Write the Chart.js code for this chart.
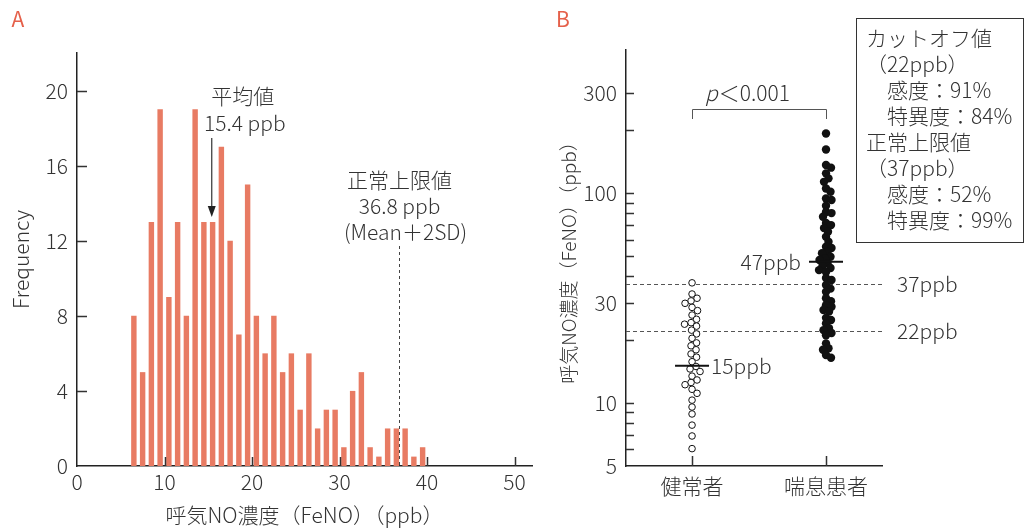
<!DOCTYPE html>
<html>
<head>
<meta charset="utf-8">
<script src="https://cdn.jsdelivr.net/npm/chart.js@4/dist/chart.umd.min.js"></script>
<style>
  html, body { margin: 0; padding: 0; background: #fff; }
  #wrap { position: relative; width: 1028px; height: 528px; }
  #ca { position: absolute; left: 0; top: 0; }
  #cb { position: absolute; left: 550px; top: 0; }
</style>
</head>
<body>
<div id="wrap">
  <canvas id="ca" width="550" height="528"></canvas>
  <canvas id="cb" width="478" height="528"></canvas>
</div>
<script>
// ---- パネルA：ヒストグラム ----
const binLow = [6, 7, 8, 9, 10, 11, 12, 13, 14, 15, 16, 17, 18, 19, 20, 21, 22,
                23, 24, 25, 26, 27, 28, 29, 30, 31, 32, 33, 34, 35, 36, 37, 38, 39];
const freq = [8, 5, 13, 19, 9, 13, 8, 19, 13, 13, 17, 12, 7, 15, 8, 6, 8,
              5, 6, 3, 6, 2, 3, 3, 1, 4, 5, 1, 0.5, 2, 2, 2, 0.5, 1];
const xTicksA = [0, 10, 20, 30, 40, 50];
const yTicksA = [0, 4, 8, 12, 16, 20];
const meanA = 15.4;
const ulnA = 36.8;

// ---- パネルB：ドットプロット ----
const groups = ['健常者', '喘息患者'];
const healthy = [37.3, 33.0, 31.5, 30.6, 29.8, 28.5, 27.5, 26.2, 25.0, 24.1, 23.7, 23.2,
                 22.2, 21.3, 20.3, 19.3, 18.7, 17.9, 17.1, 16.5, 15.7, 14.9, 14.5, 14.1,
                 13.4, 12.85, 12.5, 12.2, 11.6, 11.1, 10.3, 9.55, 8.85, 7.83, 6.95, 6.05];
const asthma = [192, 161, 136, 132, 124, 117.4, 113, 105, 101.4, 94.2, 92.5, 87,
                81.1, 80.2, 77.0, 71.9, 70.3, 68, 65.3, 61.8, 58.6, 55.4, 54.7, 52.3,
                51.6, 49.7, 48.8, 47.9, 46.2, 45, 43.9, 42.9, 42.0, 39.3, 38.5, 36.4,
                35, 33.8, 31.5, 30.5, 29.2, 28.7, 27.7, 27.2, 25.4, 24.8, 23.9, 22.7,
                22.2, 21.5, 21.0, 19.2, 18.2, 17.9, 16.9, 16.4];
const medians = [15, 47];
const cutoffs = [22, 37];
const yTicksB = [5, 6, 7, 8, 9, 10, 20, 30, 40, 50, 60, 70, 80, 90, 100, 200, 300];
const yLabelsB = [5, 10, 30, 100, 300];
const boxLines = ['カットオフ値', '（22ppb）', '　感度：91%', '　特異度：84%',
                  '正常上限値', '（37ppb）', '　感度：52%', '　特異度：99%'];

const FONT = "'Noto Sans CJK JP', 'Noto Sans', sans-serif";
const INK = '#333';
const F21 = '300 21px ' + FONT;
Chart.defaults.font.family = FONT;
Chart.defaults.font.size = 21;
Chart.defaults.font.weight = '300';
Chart.defaults.color = INK;

function txt(ctx, s, x, y, align) {
  ctx.textAlign = align || 'center';
  ctx.textBaseline = 'middle';
  ctx.fillText(s, x, y);
}

// A の注記
const annotA = {
  id: 'annotA',
  afterDraw(chart) {
    const { ctx, scales: { x, y } } = chart;
    ctx.save();
    ctx.strokeStyle = INK;
    ctx.lineWidth = 1.5;
    // 内向き目盛
    ctx.beginPath();
    yTicksA.slice(1).forEach(v => {
      const py = Math.round(y.getPixelForValue(v)) + 0.5;
      ctx.moveTo(x.left, py); ctx.lineTo(x.left + 10, py);
    });
    xTicksA.slice(1).forEach(v => {
      const px = Math.round(x.getPixelForValue(v)) + 0.5;
      ctx.moveTo(px, y.bottom); ctx.lineTo(px, y.bottom - 9);
    });
    ctx.stroke();

    // 平均値の矢印
    const mx = x.getPixelForValue(meanA);
    ctx.lineWidth = 1.2;
    ctx.beginPath();
    ctx.moveTo(mx, 138); ctx.lineTo(mx, 208);
    ctx.stroke();
    ctx.fillStyle = '#222';
    ctx.beginPath();
    ctx.moveTo(mx - 4, 206); ctx.lineTo(mx + 4, 206); ctx.lineTo(mx, 217);
    ctx.closePath(); ctx.fill();

    // 正常上限値の破線
    const ux = Math.round(x.getPixelForValue(ulnA)) + 0.5;
    ctx.strokeStyle = '#444';
    ctx.lineWidth = 1;
    ctx.setLineDash([3, 3]);
    ctx.beginPath();
    ctx.moveTo(ux, 246); ctx.lineTo(ux, y.getPixelForValue(0));
    ctx.stroke();
    ctx.setLineDash([]);

    ctx.fillStyle = INK;
    ctx.font = F21;
    txt(ctx, '平均値', mx + 31, 96);
    txt(ctx, '15.4 ppb', mx + 33, 123);
    txt(ctx, '正常上限値', ux, 180);
    txt(ctx, '36.8 ppb', ux, 206);
    txt(ctx, '(Mean＋2SD)', ux + 6, 232);

    ctx.fillStyle = '#e5604a';
    ctx.font = '400 21px ' + FONT;
    txt(ctx, 'A', 18, 19);
    ctx.restore();
  }
};

new Chart(document.getElementById('ca'), {
  type: 'bar',
  data: {
    datasets: [{
      data: binLow.map((b, i) => ({ x: b + 0.5, y: freq[i] })),
      backgroundColor: '#e87b63',
      borderWidth: 0,
      barPercentage: 0.62,
      categoryPercentage: 1
    }]
  },
  options: {
    responsive: false,
    animation: false,
    layout: { padding: { left: 0, top: 53, right: 18, bottom: 0 } },
    plugins: { legend: { display: false }, tooltip: { enabled: false } },
    scales: {
      x: {
        type: 'linear', min: 0, max: 52, offset: false,
        afterBuildTicks: s => { s.ticks = xTicksA.map(v => ({ value: v })); },
        ticks: { padding: 3, autoSkip: false, maxRotation: 0 },
        grid: { display: false, drawTicks: false },
        border: { color: '#222', width: 1.5 },
        title: { display: true, text: '呼気NO濃度（FeNO）（ppb）', padding: { top: 0, bottom: 0 } },
        afterFit: s => { s.height = 62; }
      },
      y: {
        min: 0, max: 22,
        afterBuildTicks: s => { s.ticks = yTicksA.map(v => ({ value: v })); },
        ticks: { padding: 9, autoSkip: false },
        grid: { display: false, drawTicks: false },
        border: { color: '#222', width: 1.5 },
        title: { display: true, text: 'Frequency', padding: { top: 8, bottom: 0 } },
        afterFit: s => { s.width = 77; }
      }
    }
  },
  plugins: [annotA]
});

// B の注記
const annotB = {
  id: 'annotB',
  beforeDatasetsDraw(chart) {
    const { ctx, chartArea: a, scales: { y } } = chart;
    ctx.save();
    ctx.strokeStyle = '#555';
    ctx.lineWidth = 1;
    ctx.setLineDash([4, 3]);
    cutoffs.forEach(v => {
      const py = Math.round(y.getPixelForValue(v)) + 0.5;
      ctx.beginPath(); ctx.moveTo(a.left, py); ctx.lineTo(a.right + 3, py); ctx.stroke();
    });
    ctx.restore();
  },
  afterDraw(chart) {
    const { ctx, chartArea: a, scales: { x, y } } = chart;
    ctx.save();
    ctx.strokeStyle = INK;
    ctx.lineWidth = 1.5;
    ctx.beginPath();
    yTicksB.slice(1).forEach(v => {
      const py = Math.round(y.getPixelForValue(v)) + 0.5;
      ctx.moveTo(a.left, py); ctx.lineTo(a.left + 8, py);
    });
    groups.forEach((g, i) => {
      const px = Math.round(x.getPixelForValue(i + 1)) + 0.5;
      ctx.moveTo(px, a.bottom); ctx.lineTo(px, a.bottom - 10);
    });
    ctx.stroke();

    // 中央値の線
    ctx.strokeStyle = '#111';
    ctx.lineWidth = 2;
    medians.forEach((v, i) => {
      const px = x.getPixelForValue(i + 1);
      const py = y.getPixelForValue(v);
      ctx.beginPath(); ctx.moveTo(px - 17, py); ctx.lineTo(px + 17, py); ctx.stroke();
    });

    ctx.fillStyle = INK;
    ctx.font = F21;
    const p0 = x.getPixelForValue(1), p1 = x.getPixelForValue(2);
    txt(ctx, medians[0] + 'ppb', p0 + 19, y.getPixelForValue(medians[0]), 'left');
    txt(ctx, medians[1] + 'ppb', p1 - 25, y.getPixelForValue(medians[1]), 'right');
    cutoffs.forEach(v => txt(ctx, v + 'ppb', a.right + 15, y.getPixelForValue(v), 'left'));

    // 有意差のブラケット
    ctx.strokeStyle = '#555';
    ctx.lineWidth = 1;
    ctx.beginPath();
    ctx.moveTo(Math.round(p0) + 0.5, 119); ctx.lineTo(Math.round(p0) + 0.5, 109.5);
    ctx.lineTo(Math.round(p1) + 0.5, 109.5); ctx.lineTo(Math.round(p1) + 0.5, 119);
    ctx.stroke();
    ctx.font = 'italic ' + F21;
    const wp = ctx.measureText('p').width;
    ctx.font = F21;
    const wr = ctx.measureText('＜0.001').width;
    const sx = (p0 + p1) / 2 - (wp + wr) / 2 - 12;
    ctx.font = 'italic ' + F21;
    txt(ctx, 'p', sx, 93, 'left');
    ctx.font = F21;
    txt(ctx, '＜0.001', sx + wp + 1, 93, 'left');

    // 右上の枠
    ctx.fillStyle = '#fff';
    ctx.fillRect(306.5, 18.5, 167, 224);
    ctx.strokeStyle = INK;
    ctx.lineWidth = 1;
    ctx.strokeRect(306.5, 18.5, 167, 224);
    ctx.fillStyle = INK;
    boxLines.forEach((s, i) => txt(ctx, s, 316, 38 + i * 26, 'left'));

    ctx.fillStyle = '#e5604a';
    ctx.font = '400 21px ' + FONT;
    txt(ctx, 'B', 13, 19);
    ctx.restore();
  }
};

const chartB = new Chart(document.getElementById('cb'), {
  type: 'scatter',
  data: {
    datasets: [
      { data: healthy.map(v => ({ x: 1, y: v })), pointRadius: 3.3, pointBorderWidth: 1,
        pointBackgroundColor: '#fff', pointBorderColor: '#111' },
      { data: asthma.map(v => ({ x: 2, y: v })), pointRadius: 4.2, pointBorderWidth: 0,
        pointBackgroundColor: '#111', pointBorderColor: '#111' }
    ]
  },
  options: {
    responsive: false,
    animation: false,
    layout: { padding: { left: 0, top: 50, right: 146, bottom: 0 } },
    plugins: { legend: { display: false }, tooltip: { enabled: false } },
    scales: {
      x: {
        type: 'linear', min: 0.507, max: 2.418,
        afterBuildTicks: s => { s.ticks = groups.map((g, i) => ({ value: i + 1 })); },
        ticks: { padding: 7, autoSkip: false, maxRotation: 0,
                 callback: v => groups[Math.round(v) - 1] },
        grid: { display: false, drawTicks: false },
        border: { color: '#222', width: 1.5 },
        afterFit: s => { s.height = 62; }
      },
      y: {
        type: 'logarithmic', min: 5, max: 480,
        afterBuildTicks: s => { s.ticks = yTicksB.map(v => ({ value: v })); },
        ticks: { padding: 9, autoSkip: false,
                 callback: v => yLabelsB.includes(v) ? String(v) : '' },
        grid: { display: false, drawTicks: false },
        border: { color: '#222', width: 1.5 },
        title: { display: true, text: '呼気NO濃度（FeNO）（ppb）', font: { size: 19 },
                 padding: { top: 7, bottom: 0 } },
        afterFit: s => { s.width = 76; }
      }
    }
  },
  plugins: [annotB]
});

// 重ならないように横へずらす（ビースウォーム）
function swarm(chart, di, values, center, minDist) {
  const xs = chart.scales.x, ys = chart.scales.y;
  const unit = xs.getPixelForValue(1) - xs.getPixelForValue(0);
  const pts = values.map((v, i) => ({ i, v, py: ys.getPixelForValue(v), dx: 0 }));
  pts.sort((a, b) => a.py - b.py);
  const placed = [];
  pts.forEach(p => {
    for (let k = 0; k < 200; k++) {
      const cands = k === 0 ? [0] : [k * 0.5, -k * 0.5];
      const ok = cands.find(dx => placed.every(q =>
        (q.dx - dx) ** 2 + (q.py - p.py) ** 2 >= minDist * minDist));
      if (ok !== undefined) { p.dx = ok; break; }
    }
    placed.push(p);
  });
  pts.sort((a, b) => a.i - b.i);
  chart.data.datasets[di].data = pts.map(p => ({ x: center + p.dx / unit, y: p.v }));
}
swarm(chartB, 0, healthy, 1, 6.2);
swarm(chartB, 1, asthma, 2, 5.4);
chartB.update('none');
</script>
</body>
</html>
